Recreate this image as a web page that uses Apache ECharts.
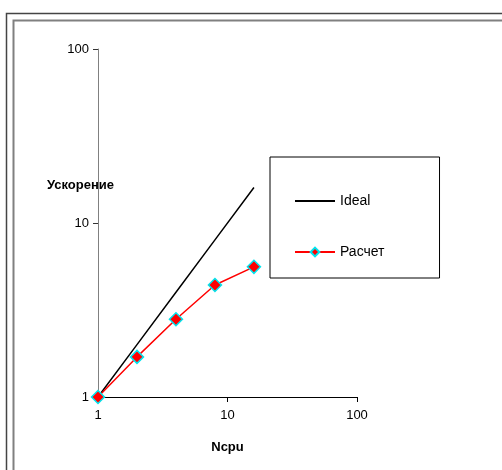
<!DOCTYPE html>
<html>
<head>
<meta charset="utf-8">
<script src="https://cdn.jsdelivr.net/npm/echarts@6/dist/echarts.min.js"></script>
<style>
  html, body { margin: 0; padding: 0; background: #fff; }
  #main { width: 502px; height: 470px; }
</style>
</head>
<body>
<div id="main"></div>
<script>
// данные графика
let ncpu = [1, 2, 4, 8, 16]
let ideal = [1, 2, 4, 8, 16]
let raschet = [1, 1.7, 2.8, 4.4, 5.6]
let seriesNames = ['Ideal', 'Расчет']

let font = '"Liberation Sans", Arial, sans-serif'

let chart = echarts.init(document.getElementById('main'))

let option = {
  backgroundColor: '#fff',
  textStyle: { fontFamily: font },
  animation: false,
  // рамки как в Excel
  graphic: [
    {
      type: 'rect',
      shape: { x: 6.5, y: 13.5, width: 600, height: 600 },
      style: { fill: 'none', stroke: '#444', lineWidth: 1.5 }
    },
    {
      type: 'rect',
      shape: { x: 13.5, y: 20.5, width: 600, height: 600 },
      style: { fill: 'none', stroke: '#808080', lineWidth: 2 }
    },
    {
      type: 'text',
      left: 47,
      top: 179,
      style: { text: 'Ускорение', font: 'bold 13px ' + font, fill: '#000' }
    }
  ],
  grid: {
    left: 98,
    right: 145,
    top: 49,
    bottom: 73
  },
  legend: {
    orient: 'vertical',
    left: 270,
    top: 157,
    padding: [37, 55, 19, 24],
    itemWidth: 40,
    itemHeight: 11,
    itemGap: 37,
    borderColor: '#000',
    borderWidth: 1,
    backgroundColor: '#fff',
    textStyle: { fontSize: 14, color: '#000', fontFamily: font },
    data: [
      { name: seriesNames[0], itemStyle: { opacity: 0 } },
      { name: seriesNames[1] }
    ]
  },
  xAxis: {
    type: 'log',
    logBase: 10,
    min: 1,
    max: 100,
    name: 'Ncpu',
    nameLocation: 'middle',
    nameGap: 44,
    nameTextStyle: { fontWeight: 'bold', fontSize: 13, color: '#000' },
    axisLine: { lineStyle: { color: '#000', width: 1 } },
    axisTick: { length: 5, lineStyle: { color: '#000' } },
    axisLabel: { fontSize: 13, color: '#000', margin: 12 },
    splitLine: { show: false },
    minorTick: { show: false }
  },
  yAxis: {
    type: 'log',
    logBase: 10,
    min: 1,
    max: 100,
    axisLine: { show: true, lineStyle: { color: '#808080', width: 1 } },
    axisTick: { show: true, length: 5, lineStyle: { color: '#333' } },
    axisLabel: { fontSize: 13, color: '#000', margin: 9 },
    splitLine: { show: false }
  },
  series: [
    {
      name: seriesNames[0],
      type: 'line',
      symbol: 'none',
      lineStyle: { color: '#000', width: 1.5 },
      itemStyle: { color: '#000' },
      data: ncpu.map((n, i) => [n, ideal[i]]),
      z: 2
    },
    {
      name: seriesNames[1],
      type: 'line',
      symbol: 'diamond',
      symbolSize: 13,
      lineStyle: { color: '#ff0000', width: 1.5 },
      itemStyle: { color: '#ff0000', borderColor: '#00e5ee', borderWidth: 1.5 },
      data: ncpu.map((n, i) => [n, raschet[i]]),
      z: 3
    }
  ]
}

chart.setOption(option)
</script>
</body>
</html>
